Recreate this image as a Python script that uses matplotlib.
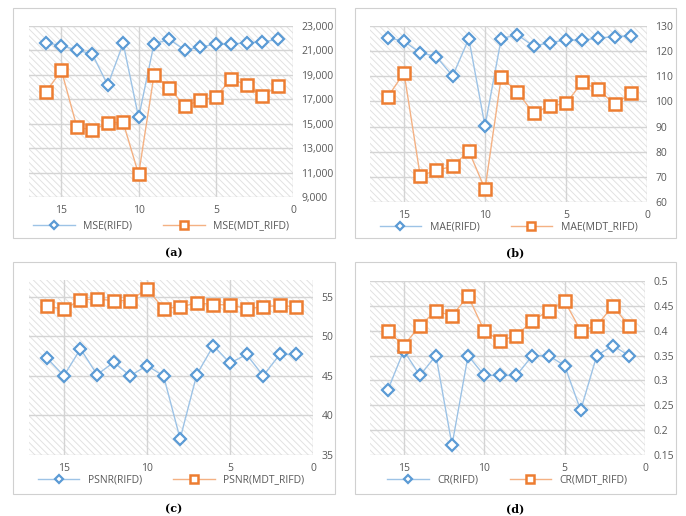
import numpy as np
import matplotlib
matplotlib.use('Agg')
import matplotlib.pyplot as plt
from matplotlib import rcParams
from matplotlib.patches import Rectangle
from matplotlib.ticker import FuncFormatter

rcParams['font.family'] = ['Open Sans', 'DejaVu Sans']
rcParams['hatch.color'] = '#e2e2e2'
rcParams['hatch.linewidth'] = 0.7

x = [16, 15, 14, 13, 12, 11, 10, 9, 8, 7, 6, 5, 4, 3, 2, 1]

mse_rifd = [21630, 21390, 21030, 20700, 18160, 21580, 15510, 21550,
            21900, 21030, 21280, 21520, 21520, 21630, 21690, 21900]
mse_mdt = [17610, 19360, 14740, 14470, 15070, 15100, 10860, 19010,
           17890, 16440, 16930, 17200, 18680, 18160, 17260, 18080]

mae_rifd = [125.4, 123.9, 119.4, 117.8, 110.1, 125.0, 90.2, 125.0,
            126.5, 122.0, 123.4, 124.4, 124.4, 125.2, 125.8, 126.1]
mae_mdt = [101.8, 111.4, 70.4, 72.6, 74.2, 80.3, 65.1, 109.6,
           103.8, 95.2, 98.3, 99.2, 107.6, 104.8, 98.8, 103.2]

psnr_rifd = [47.2, 45.0, 48.4, 45.15, 46.7, 45.0, 46.3, 45.0,
             37.05, 45.15, 48.8, 46.6, 47.7, 45.0, 47.7, 47.7]
psnr_mdt = [53.8, 53.4, 54.6, 54.7, 54.5, 54.5, 56.0, 53.5,
            53.7, 54.2, 54.0, 53.95, 53.5, 53.7, 53.9, 53.7]

cr_rifd = [0.28, 0.36, 0.31, 0.35, 0.17, 0.35, 0.31, 0.31,
           0.31, 0.35, 0.35, 0.33, 0.24, 0.35, 0.37, 0.35]
cr_mdt = [0.40, 0.37, 0.41, 0.44, 0.43, 0.47, 0.40, 0.38,
          0.39, 0.42, 0.44, 0.46, 0.40, 0.41, 0.45, 0.41]

W, H = 686.0, 516.0
fig = plt.figure(figsize=(W / 100, H / 100), dpi=100)


def px(l, t, r, b):
    return [l / W, 1 - b / H, (r - l) / W, (b - t) / H]


panels = [
    # frame, plot area, data, ylim, yticks, fmt, label, name, legend gap (px)
    ((13, 8, 335, 238), (29, 26, 293, 197), mse_rifd, mse_mdt,
     (9000, 23000), np.arange(9000, 23001, 2000), '{:,.0f}', '(a)', 'MSE', 22),
    ((355, 8, 676, 238), (370, 26, 647, 202), mae_rifd, mae_mdt,
     (60, 130), np.arange(60, 131, 10), '{:.0f}', '(b)', 'MAE', 17),
    ((13, 262, 335, 494), (29, 280, 313, 455), psnr_rifd, psnr_mdt,
     (35, 57.1), np.arange(35, 56, 5), '{:.0f}', '(c)', 'PSNR', 17),
    ((355, 262, 676, 494), (370, 281, 645, 455), cr_rifd, cr_mdt,
     (0.15, 0.5), np.arange(0.15, 0.51, 0.05), '{:g}', '(d)', 'CR', 17),
]

for frame, area, blue, orange, ylim, yticks, fmt, lab, name, gap in panels:
    l, t, r, b = frame
    fig.patches.append(Rectangle((l / W, 1 - b / H), (r - l) / W, (b - t) / H,
                                 transform=fig.transFigure, fill=False,
                                 edgecolor='#d0d0d0', linewidth=0.8))
    ax = fig.add_axes(px(*area))
    ax.add_patch(Rectangle((0, 0), 1, 1, transform=ax.transAxes,
                           facecolor='white', hatch='\\\\\\\\\\',
                           edgecolor='#e2e2e2', linewidth=0, zorder=0))
    ax.plot(x, blue, color='#9dc3e6', linewidth=1.0, marker='D', markersize=6,
            markerfacecolor='white', markeredgecolor='#5b9bd5',
            markeredgewidth=1.6, label=name + '(RIFD)', zorder=3)
    ax.plot(x, orange, color='#f4b183', linewidth=1.0, marker='s', markersize=8.5,
            markerfacecolor='white', markeredgecolor='#ed7d31',
            markeredgewidth=1.8, label=name + '(MDT_RIFD)', zorder=4)
    ax.set_xlim(17.1, 0)
    ax.set_ylim(*ylim)
    ax.set_xticks([15, 10, 5, 0])
    ax.set_yticks(yticks)
    ax.yaxis.set_major_formatter(FuncFormatter(lambda v, p, f=fmt: f.format(round(v, 2))))
    ax.yaxis.tick_right()
    ax.grid(True, color='#d4d4d4', linewidth=1.0, zorder=1)
    ax.set_axisbelow(True)
    for s in ax.spines.values():
        s.set_visible(False)
    ax.tick_params(length=0, labelsize=7.5, colors='#595959', pad=6)
    ax.legend(loc='upper center', bbox_to_anchor=(0.5, -gap / (b - t - 36)),
              ncol=2, frameon=False, fontsize=7.5, labelcolor='#595959',
              handlelength=4, columnspacing=3, borderaxespad=0,
              markerscale=0.75)
    fig.text((l + r) / 2 / W, 1 - (b + 15) / H, lab, ha='center', va='center',
             fontsize=8, fontweight='bold', family=['DejaVu Serif'])

fig.savefig('out.png', dpi=100)
